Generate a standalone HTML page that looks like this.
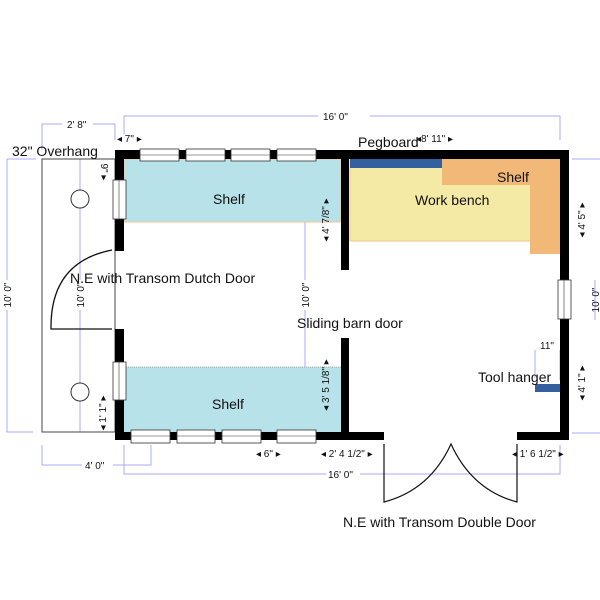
<!DOCTYPE html>
<html><head><style>body{margin:0;background:#fff}svg{display:block}text{font-family:"Liberation Sans",sans-serif;fill:#111}</style></head><body>
<svg width="600" height="600" viewBox="0 0 600 600" xmlns="http://www.w3.org/2000/svg">
<g stroke="#a8a8ff" stroke-width="1" fill="none">
<path d="M124 134 V116 H318 M370 116 H560 V140"/>
<path d="M42 150 V124 H62 M93 124 H115 V140"/>
<path d="M7 159 H36 M7 159 V280 M7 310 V432 H33"/>
<path d="M80 159 V280 M80 310 V432"/>
<path d="M305 159 V280 M305 310 V432"/>
<path d="M572 159 H600 M572 433 H600 M595 280 V320"/>
<path d="M42 445 V465 H82 M113 465 H151 V445"/>
<path d="M124 445 V474 H326 M360 474 H560 V445"/>
<path d="M535 378 V350 M560 350 V380"/>
</g>
<rect x="124" y="159" width="217" height="63" fill="#b7e2ea" stroke="#f5c48a" stroke-width="1"/>
<rect x="124" y="367" width="217" height="65" fill="#b7e2ea"/>
<line x1="124" y1="367" x2="341" y2="367" stroke="#666" stroke-dasharray="1 1" stroke-width="0.6"/>
<rect x="350" y="159" width="181" height="82" fill="#f5e9a6" stroke="#f5c48a" stroke-width="1"/>
<path d="M442 159 H560 V254 H530 V185 H442 Z" fill="#f2b877"/>
<rect x="350" y="159" width="92" height="9" fill="#3560a0"/>
<rect x="535" y="384" width="25" height="8" fill="#3560a0"/>
<rect x="42" y="159" width="73" height="273" fill="none" stroke="#444" stroke-width="1"/>
<circle cx="80" cy="199" r="9" fill="#fff" stroke="#333"/>
<circle cx="80" cy="392" r="9" fill="#fff" stroke="#333"/>
<path d="M112 250 Q50 262 51 329 L112 329" fill="none" stroke="#111" stroke-width="1.3"/>
<g fill="#000">
<rect x="115" y="150" width="454" height="9"/>
<rect x="115" y="150" width="9" height="101"/>
<rect x="341" y="159" width="8" height="111"/>
<rect x="560" y="150" width="9" height="290"/>
<rect x="115" y="329" width="9" height="111"/>
<rect x="341" y="338" width="8" height="100"/>
<rect x="115" y="432" width="269" height="8"/>
<rect x="517" y="432" width="52" height="8"/>
</g>
<g fill="#fff" stroke="#333" stroke-width="0.8">
<rect x="140" y="149" width="39" height="12"/><rect x="186" y="149" width="39" height="12"/><rect x="231" y="149" width="39" height="12"/><rect x="277" y="149" width="39" height="12"/>
<rect x="131" y="430" width="39" height="13"/><rect x="177" y="430" width="38" height="13"/><rect x="222" y="430" width="39" height="13"/><rect x="277" y="430" width="39" height="13"/>
<rect x="113" y="180" width="13" height="39"/><rect x="113" y="362" width="13" height="38"/>
<rect x="558" y="280" width="13" height="39"/>
</g>
<g stroke="#333" stroke-width="0.6">
<path d="M140 155 H179 M186 155 H225 M231 155 H270 M277 155 H316 M131 436 H170 M177 436 H215 M222 436 H261 M277 436 H316"/>
<path d="M119 180 V219 M119 362 V400 M564 280 V319"/>
</g>
<path d="M384 444 V502 Q430 490 451 444 Q472 490 517 502 V444" fill="none" stroke="#111" stroke-width="1.2"/>
<g font-size="14">
<text x="12" y="156">32" Overhang</text>
<text x="213" y="204">Shelf</text>
<text x="358" y="147">Pegboard</text>
<text x="497" y="182">Shelf</text>
<text x="415" y="205">Work bench</text>
<text x="70" y="283">N.E with Transom Dutch Door</text>
<text x="297" y="328">Sliding barn door</text>
<text x="478" y="382">Tool hanger</text>
<text x="212" y="409">Shelf</text>
<text x="343" y="527">N.E with Transom Double Door</text>
</g>
<g font-size="10">
<text x="67" y="128">2' 8"</text>
<text x="323" y="120">16' 0"</text>
<text x="117" y="142">◂ 7" ▸</text>
<text x="416" y="142">◂8' 11" ▸</text>
<text x="540" y="349">11"</text>
<text x="256" y="457">◂ 6" ▸</text>
<text x="321" y="457">◂ 2' 4 1/2" ▸</text>
<text x="512" y="457">◂ 1' 6 1/2" ▸</text>
<text x="85" y="469">4' 0"</text>
<text x="328" y="478">16' 0"</text>
<text transform="translate(11 295) rotate(-90)" text-anchor="middle">10' 0"</text>
<text transform="translate(84 295) rotate(-90)" text-anchor="middle">10' 0"</text>
<text transform="translate(309 295) rotate(-90)" text-anchor="middle">10' 0"</text>
<text transform="translate(599 300) rotate(-90)" text-anchor="middle">10' 0"</text>
<text transform="translate(101 172) rotate(90)" text-anchor="middle">9" ▸</text>
<text transform="translate(329 220) rotate(-90)" text-anchor="middle">◂ 4' 7/8" ▸</text>
<text transform="translate(585 220) rotate(-90)" text-anchor="middle">◂ 4' 5" ▸</text>
<text transform="translate(585 383) rotate(-90)" text-anchor="middle">◂ 4' 1" ▸</text>
<text transform="translate(329 385) rotate(-90)" text-anchor="middle">◂ 3' 5 1/8" ▸</text>
<text transform="translate(106 413) rotate(-90)" text-anchor="middle">◂ 1' 1" ▸</text>
</g>
</svg>
</body></html>
